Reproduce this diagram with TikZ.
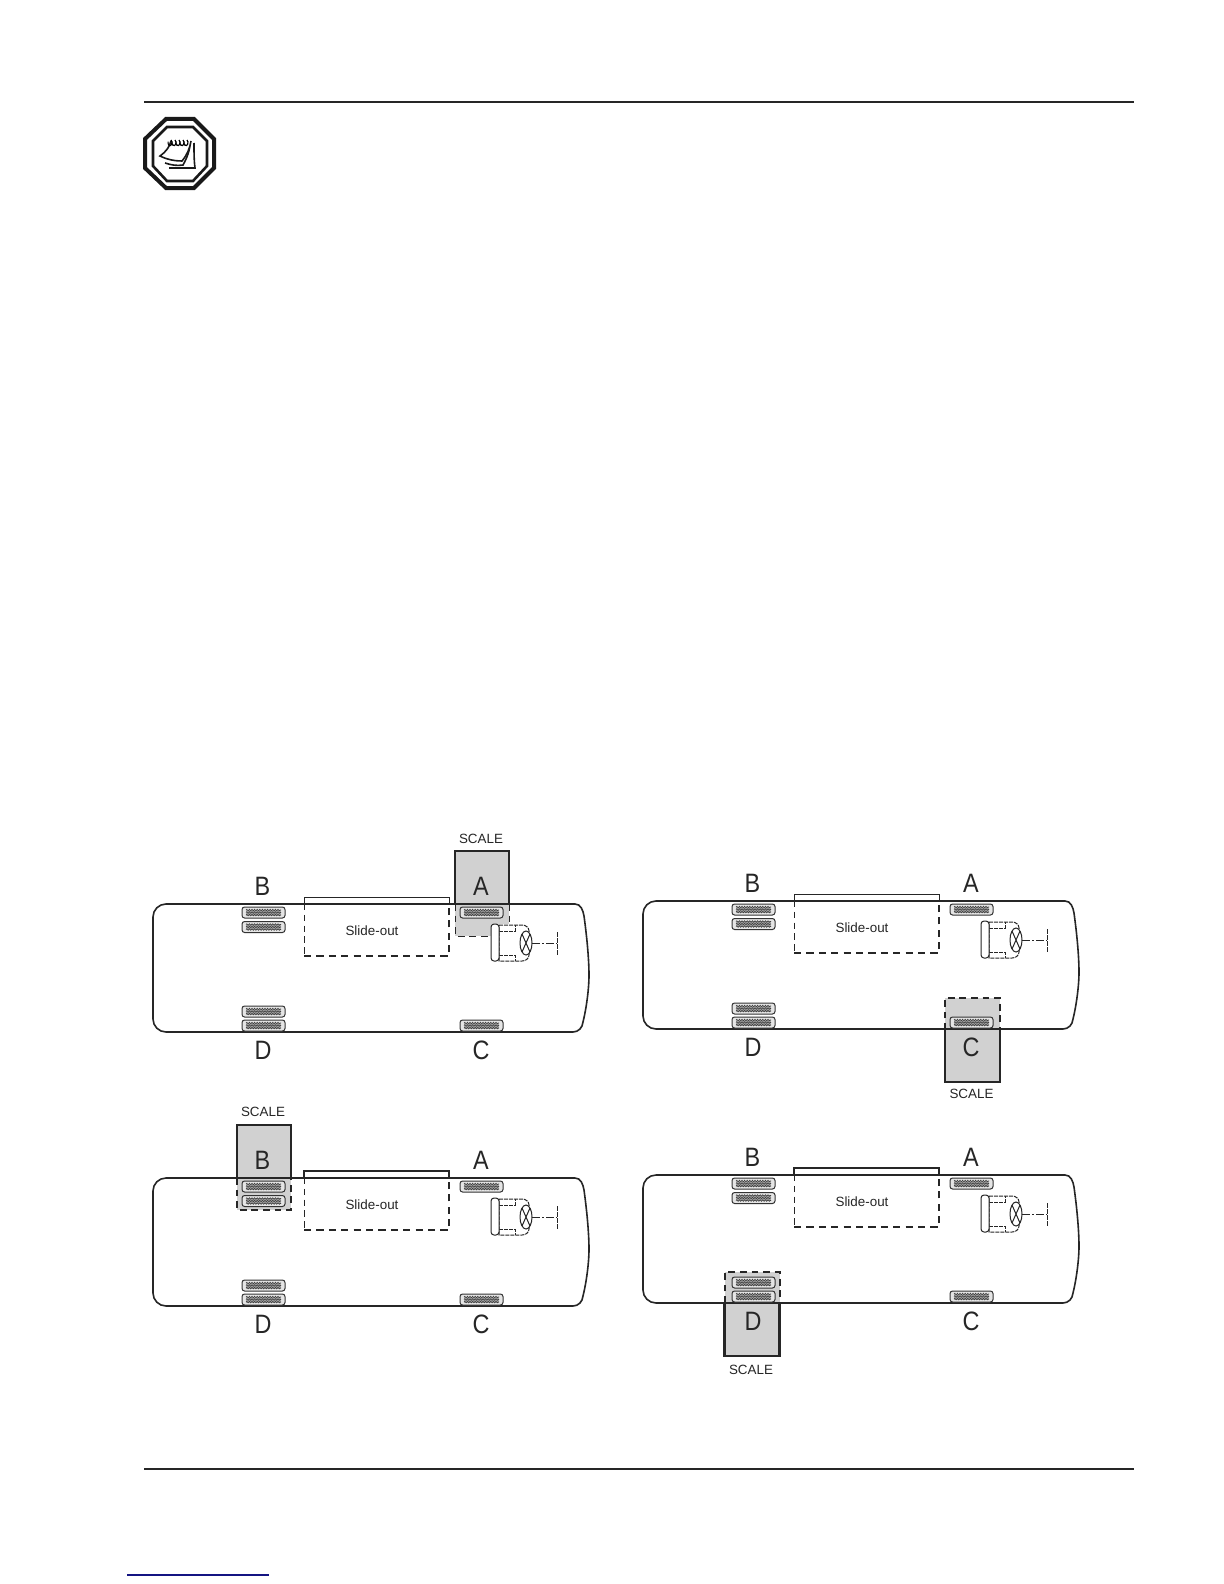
\documentclass[tikz,border=0pt]{standalone}
\usepackage{fontspec}
\setmainfont{Liberation Sans}
\usetikzlibrary{decorations.pathmorphing}
\definecolor{scalegray}{gray}{0.82}
\definecolor{linkblue}{RGB}{20,20,130}
\tikzset{
    coachline/.style={line width=0.8pt,black!85},
    pageline/.style={line width=0.8pt,black!85},
    scalebox/.style={line width=1.1pt,black!85,fill=scalegray},
    scaledash/.style={line width=#1,black!85,dash pattern=on 3.4pt off 2.4pt},
    scaledash/.default=1pt,
    slidethin/.style={line width=0.5pt,black!85,dash pattern=on 3.2pt off 2.2pt},
    slidethick/.style={line width=1pt,black!85,dash pattern=on 3.6pt off 2.6pt},
    wheelbox/.style={line width=0.5pt,black!80,fill=black!10,rounded corners=1.3pt},
    wheelwave/.style={line width=0.3pt,black!75,decorate,decoration={snake,amplitude=0.4pt,segment length=1.3pt}},
    seatline/.style={line width=0.5pt,black!85,dash pattern=on 2pt off 0.5pt},
    iconpage/.style={line width=0.8pt,black!90},
    bigletter/.style={font=\fontsize{13.3}{14}\selectfont,text=black!85,inner sep=0pt},
    smalltext/.style={font=\fontsize{6.7}{8}\selectfont,text=black!85,inner sep=0pt},
}
\newcommand{\coachwheel}[2]{
    \draw[wheelbox] (#1,#2) rectangle ++(43,11);
    \fill[black!35] (#1+4,#2+2.5) rectangle ++(35,6);
    \draw[wheelwave] (#1+4,#2+3)--++(35,0);
    \draw[wheelwave] (#1+4,#2+5.5)--++(35,0);
    \draw[wheelwave] (#1+4,#2+8)--++(35,0);
}
% #1 name, #2 #3 shift, #4 width of the slide-out top
\newcommand{\coachplan}[4]{
\begin{scope}[shift={(#2,#3)}]
    \draw[coachline] (166,904)--(575,904) to[out=0,in=100] (584,916) .. controls (588,945) and (589,965) .. (589,975) .. controls (589,990) and (586,1010) .. (583,1022) to[out=-95,in=0] (573,1032)--(166,1032) to[out=180,in=-90] (153,1019)--(153,917) to[out=90,in=180] (166,904)--cycle;
    \coachwheel{242}{907}
    \coachwheel{242}{921.5}
    \coachwheel{242}{1006}
    \coachwheel{242}{1020}
    \coachwheel{460}{907}
    \coachwheel{460}{1020}
    \draw[line width=#4,black!85] (304,904)--(304,897)--(449,897)--(449,904);
    \draw[slidethin] (304,904)--(304,956);
    \draw[slidethick] (304,956)--(449,956)--(449,904);
    \node[smalltext] (#1slide) at (372,931) {Slide-out};
    \node[bigletter] (#1A) at (481,886) {\scalebox{0.88}[1]{A}};
    \node[bigletter] (#1B) at (262.5,886) {\scalebox{0.88}[1]{B}};
    \node[bigletter] (#1C) at (481,1050) {\scalebox{0.88}[1]{C}};
    \node[bigletter] (#1D) at (263,1050) {\scalebox{0.88}[1]{D}};
    \draw[seatline,fill=white] (499,925)--(522,925) to[out=0,in=90] (529,931)--(529,955) to[out=-90,in=0] (522,961)--(499,961)--cycle;
    \draw[seatline] (499,931)--(515,931)--(515,925) (499,955)--(515,955)--(515,961);
    \draw[line width=0.5pt,black!85,fill=white,rounded corners=1.5pt] (491,924) rectangle (499,961);
    \draw[line width=0.5pt,black!85,fill=white] (526,943) ellipse (6 and 12);
    \draw[line width=0.5pt,black!85] (522,934)--(530,952) (530,934)--(522,952);
    \draw[line width=0.45pt,black!85,dash pattern=on 4pt off 1pt on 1pt off 1pt] (532,943)--(557,943);
    \draw[line width=0.45pt,black!85,dash pattern=on 2.5pt off 0.5pt] (557,932)--(557,955);
\end{scope}
}
\begin{document}
\begin{tikzpicture}[x=0.5pt,y=-0.5pt]
    \useasboundingbox (0,0) rectangle (1224,1584);
    \fill[white] (0,0) rectangle (1224,1584);
    \draw[pageline] (144,102)--(1134,102);
    \draw[pageline] (144,1469)--(1134,1469);
    \draw[line width=0.9pt,linkblue] (127,1575)--(269,1575);

    \draw[line width=2pt,black!90] (166,119)--(194,119)--(214,139)--(214,168)--(194,188)--(166,188)--(145,168)--(145,139)--cycle;
    \draw[line width=1.3pt,black!90] (167,127)--(193,127)--(207,141)--(207,166)--(193,181)--(167,181)--(153,166)--(153,141)--cycle;
    \draw[iconpage] (194,143) .. controls (194,152) and (194,160) .. (195,168)--(169,168);
    \draw[iconpage] (190,143) .. controls (190,150) and (187,158) .. (183,165) .. controls (177,166) and (171,165) .. (165,163);
    \draw[iconpage,fill=white] (171,141) .. controls (170,146) and (166,152) .. (160,156) .. controls (168,160) and (176,161) .. (182,161) .. controls (187,155) and (190,148) .. (191,141);
    \foreach \x in {171,175,179,183,187}
{
    \draw[line width=0.6pt] (\x,140) arc (-60:200:2 and 3);
}

    \fill[scalegray] (455,904) rectangle (509,924);
    \fill[scalegray] (455,924) rectangle (491,936);
    \draw[scalebox] (455,851) rectangle (509,904);
    \draw[scaledash=0.5pt] (455,904)--(455,936)--(491,936);
    \draw[scaledash=0.5pt] (509,904)--(509,924);
    \node[smalltext] (scaleA) at (481,838.5) {SCALE};
    \coachplan{first}{0}{0}{0.5pt}

    \fill[scalegray] (945,998) rectangle (1000,1030);
    \draw[scaledash] (945,1030)--(945,998)--(1000,998)--(1000,1030);
    \draw[scalebox] (945,1029) rectangle (1000,1082);
    \node[smalltext] (scaleC) at (971.5,1094) {SCALE};
    \coachplan{second}{490}{-3}{0.5pt}

    \fill[scalegray] (237,1178) rectangle (291,1210);
    \draw[scaledash] (237,1178)--(237,1210)--(291,1210)--(291,1178);
    \draw[scalebox] (237,1125) rectangle (291,1178);
    \node[smalltext] (scaleB) at (263,1112) {SCALE};
    \coachplan{third}{0}{274}{1pt}

    \fill[scalegray] (724.5,1272) rectangle (779.5,1303);
    \draw[scaledash] (724.5,1303)--(724.5,1272)--(779.5,1272)--(779.5,1303);
    \draw[scalebox] (724.5,1303) rectangle (779.5,1356);
    \node[smalltext] (scaleD) at (751,1370) {SCALE};
    \coachplan{fourth}{490}{271}{1pt}
\end{tikzpicture}
\end{document}
